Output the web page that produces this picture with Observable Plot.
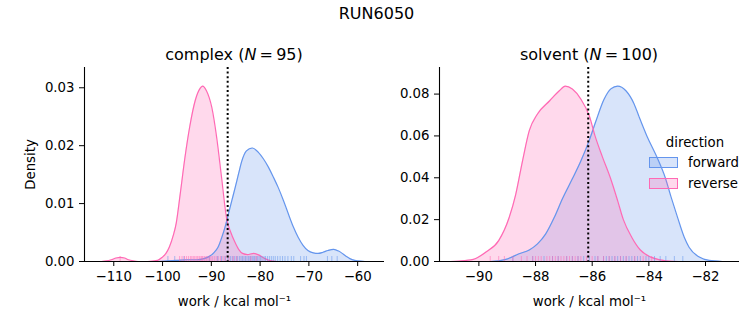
<!DOCTYPE html>
<html><head><meta charset="utf-8">
<script src="https://cdn.jsdelivr.net/npm/d3@7"></script>
<script src="https://cdn.jsdelivr.net/npm/@observablehq/plot@0.6"></script>
<style>
body{margin:0;background:#fff;}
#fig{position:relative;width:753px;height:325px;font-family:"DejaVu Sans",sans-serif;color:#000;overflow:hidden;}
.ttl{position:absolute;font-size:16px;transform:translate(-50%,-50%);white-space:nowrap;}
.panel{position:absolute;top:0;}
.leg{position:absolute;font-size:13.3px;white-space:nowrap;}
.patch{position:absolute;width:27px;height:9px;}
</style></head><body>
<div id="fig"></div>
<script>
// ---------- data ----------
const figTitle = "RUN6050";
const panelNames = ["complex", "solvent"];
const panelN = [95, 100];
const directions = ["forward", "reverse"];
const directionColors = ["#6495ED", "#FF69B4"];
const meanLine = [-86.65, -86.14];

const complexXTicks = [-110, -100, -90, -80, -70, -60];
const complexYTicks = [0, 0.01, 0.02, 0.03];
const solventXTicks = [-90, -88, -86, -84, -82];
const solventYTicks = [0, 0.02, 0.04, 0.06, 0.08];

// complex, forward density curve
const complexForwardX = [-101, -99, -97, -95, -93, -91.5, -90.6, -89.5, -88.6, -87.8, -87.2, -86.5, -85.8, -85.1, -84.4, -83.8, -82.8, -81.6, -80.4, -79.3, -78.3, -77.3, -76.3, -75.2, -74.2, -73.2, -72.2, -71.2, -70.2, -69.1, -68.1, -67.1, -66.1, -64.9, -63.9, -63.0, -62.2, -61.6, -60.6, -59.9, -58.5];
const complexForwardD = [0, 0.0001, 0.0002, 0.0003, 0.0003, 0.0005, 0.0008, 0.0015, 0.0025, 0.0043, 0.0059, 0.0082, 0.0105, 0.0128, 0.0152, 0.0172, 0.0191, 0.0196, 0.0189, 0.0177, 0.0163, 0.0146, 0.0128, 0.0105, 0.0082, 0.0060, 0.0042, 0.0028, 0.0019, 0.0015, 0.0014, 0.0016, 0.0019, 0.0021, 0.0018, 0.0013, 0.0008, 0.0005, 0.0002, 0.0001, 0];
// complex, reverse density curve
const complexReverseX = [-112.5, -111.5, -110.5, -109.5, -108.7, -107.8, -107, -106, -105, -103, -101, -100.1, -99.3, -98.6, -97.8, -97.2, -96.4, -95.4, -94.4, -93.3, -92.3, -91.8, -91.0, -89.9, -88.9, -87.9, -86.9, -86.0, -85.2, -84.4, -83.6, -82.6, -81.3, -80.2, -79.0, -77.7, -76.5];
const complexReverseD = [0, 0.0001, 0.0003, 0.0006, 0.0007, 0.0006, 0.0003, 0.0001, 0, 0, 0.0002, 0.0007, 0.0014, 0.0025, 0.0045, 0.0066, 0.0115, 0.0180, 0.0234, 0.0278, 0.0299, 0.0303, 0.0295, 0.0266, 0.0214, 0.0145, 0.0076, 0.0050, 0.0034, 0.0021, 0.0014, 0.0012, 0.0014, 0.0011, 0.0005, 0.0001, 0];
// solvent, forward density curve
const solventForwardX = [-89.6, -89.3, -89.05, -88.58, -88.22, -87.93, -87.64, -87.34, -87.05, -86.7, -86.4, -86.1, -85.87, -85.58, -85.34, -85.1, -84.81, -84.52, -84.34, -84.07, -83.72, -83.42, -83.22, -82.99, -82.75, -82.58, -82.22, -81.87, -81.4];
const solventForwardD = [0, 0.0003, 0.0010, 0.0037, 0.0055, 0.0084, 0.0132, 0.0210, 0.0300, 0.0395, 0.0480, 0.0580, 0.0670, 0.0775, 0.0825, 0.0838, 0.0816, 0.0753, 0.0690, 0.0600, 0.0500, 0.0400, 0.0310, 0.0212, 0.0116, 0.0068, 0.0021, 0.0005, 0];
// solvent, reverse density curve
const solventReverseX = [-91.0, -90.7, -90.2, -89.75, -89.3, -88.93, -88.7, -88.46, -88.22, -87.93, -87.5, -87.16, -86.95, -86.7, -86.4, -86.1, -85.9, -85.64, -85.36, -85.1, -84.9, -84.6, -84.3, -83.95, -83.6, -83.2, -82.8];
const solventReverseD = [0, 0.0002, 0.0010, 0.0045, 0.0100, 0.0210, 0.0320, 0.0480, 0.0625, 0.0705, 0.0768, 0.0816, 0.0838, 0.0824, 0.0776, 0.0695, 0.0600, 0.0500, 0.0400, 0.0290, 0.0200, 0.0115, 0.0055, 0.0022, 0.0008, 0.0001, 0];

// rug samples (work values)
const complexForwardRug = [-98.9, -97.5, -95.6, -90.4, -88.7, -87.9, -87.2, -86.6, -86.1, -85.7, -85.3, -84.9, -84.6, -84.2, -83.9, -83.6, -83.3, -83.0, -82.7, -82.4, -82.1, -81.9, -81.6, -81.3, -81.1, -80.8, -80.5, -80.2, -79.9, -79.6, -79.2, -78.9, -78.5, -78.1, -77.7, -77.3, -76.9, -76.4, -75.9, -75.4, -74.9, -74.3, -73.6, -73.1, -71.7, -71.0, -70.5, -66.2, -65.3, -64.2];
const complexReverseRug = [-108.7, -96.5, -96.0, -95.5, -95.1, -94.7, -94.3, -94.0, -93.7, -93.4, -93.1, -92.8, -92.5, -92.3, -92.0, -91.8, -91.5, -91.3, -91.0, -90.7, -90.4, -90.1, -89.8, -89.4, -89.0, -88.6, -88.1, -87.6, -87.1, -86.4, -85.5, -84.8, -81.9, -80.8];
const solventForwardRug = [-88.8, -88.1, -87.7, -87.4, -87.2, -86.9, -86.7, -86.5, -86.3, -86.1, -85.9, -85.8, -85.6, -85.5, -85.4, -85.3, -85.2, -85.1, -85.0, -84.9, -84.8, -84.7, -84.6, -84.5, -84.4, -84.3, -84.1, -84.0, -83.8, -83.6, -83.4, -83.1, -82.8];
const solventReverseRug = [-89.6, -89.3, -89.1, -88.8, -88.5, -88.3, -88.1, -88.0, -87.9, -87.8, -87.6, -87.5, -87.4, -87.3, -87.2, -87.1, -87.0, -86.9, -86.8, -86.7, -86.6, -86.5, -86.4, -86.2, -86.0, -85.8, -85.6, -85.4, -85.2, -85.0, -84.8, -84.5, -84.2, -83.9];

// ---------- build ----------
function curve(xs, ds, dir) { return xs.map((x, i) => ({x, d: ds[i], direction: dir})); }
function rug(xs, dir) { return xs.map(x => ({x, direction: dir})); }

const fig = document.getElementById("fig");
const xLabel = "work / kcal mol\u207B\u00B9";

function panel(opts) {
  const {width, marginLeft, marginRight, xDomain, yDomain, xTicks, yTicks, yFmt, curves, rugs, mean, yLabel} = opts;
  const frameH = 325 - 67 - 64;
  return Plot.plot({
    width, height: 325, marginLeft, marginRight, marginTop: 67, marginBottom: 64,
    style: {fontFamily: "DejaVu Sans, sans-serif", fontSize: "13.3px", background: "transparent", color: "#000", overflow: "visible"},
    x: {domain: xDomain, ticks: xTicks, tickFormat: d3.format("d"), tickSize: 5, tickPadding: 5,
        label: xLabel, labelAnchor: "center", labelOffset: 44, labelArrow: "none"},
    y: {domain: yDomain, ticks: yTicks, tickFormat: d3.format(yFmt), tickSize: 5, tickPadding: 5,
        label: yLabel, labelAnchor: "center", labelOffset: 59, labelArrow: "none"},
    color: {domain: directions, range: directionColors},
    marks: [
      Plot.areaY(curves, {x: "x", y1: 0, y2: "d", fill: "direction", z: "direction", fillOpacity: 0.25, curve: "monotone-x"}),
      Plot.lineY(curves, {x: "x", y: "d", stroke: "direction", z: "direction", strokeWidth: 1.2, curve: "monotone-x"}),
      Plot.ruleX(rugs, {x: "x", stroke: "direction", strokeOpacity: 0.55, strokeWidth: 1, insetTop: frameH - 5}),
      Plot.ruleX([mean], {stroke: "#000", strokeWidth: 2, strokeDasharray: "2,2.6"}),
      Plot.ruleY([yDomain[0]], {stroke: "#000", strokeWidth: 1.1}),
      Plot.ruleX([xDomain[0]], {stroke: "#000", strokeWidth: 1.1})
    ]
  });
}

const left = panel({
  width: 395, marginLeft: 84, marginRight: 11,
  xDomain: [-116, -54.5], yDomain: [0, 0.0335], xTicks: complexXTicks, yTicks: complexYTicks, yFmt: ".2f",
  curves: [...curve(complexForwardX, complexForwardD, "forward"), ...curve(complexReverseX, complexReverseD, "reverse")],
  rugs: [...rug(complexForwardRug, "forward"), ...rug(complexReverseRug, "reverse")],
  mean: meanLine[0], yLabel: "Density"
});
const right = panel({
  width: 358, marginLeft: 44, marginRight: 14,
  xDomain: [-91.39, -80.8], yDomain: [0, 0.0927], xTicks: solventXTicks, yTicks: solventYTicks, yFmt: ".2f",
  curves: [...curve(solventForwardX, solventForwardD, "forward"), ...curve(solventReverseX, solventReverseD, "reverse")],
  rugs: [...rug(solventForwardRug, "forward"), ...rug(solventReverseRug, "reverse")],
  mean: meanLine[1], yLabel: null
});
left.classList.add("panel"); left.style.left = "0px";
right.classList.add("panel"); right.style.left = "395px";
fig.appendChild(left); fig.appendChild(right);

function addTitle(html, x, y) {
  const d = document.createElement("div");
  d.className = "ttl"; d.innerHTML = html;
  d.style.left = x + "px"; d.style.top = y + "px";
  fig.appendChild(d);
}
addTitle(figTitle, 376.5, 13);
addTitle(`${panelNames[0]} (<i>N</i>\u2009=\u2009${panelN[0]})`, 234, 54);
addTitle(`${panelNames[1]} (<i>N</i>\u2009=\u2009${panelN[1]})`, 589, 54);

// legend
function legText(t, x, y) {
  const d = document.createElement("div");
  d.className = "leg"; d.textContent = t;
  d.style.left = x + "px"; d.style.top = y + "px";
  fig.appendChild(d);
  return d;
}
const lt = legText("direction", 0, 135);
lt.style.left = "695px"; lt.style.transform = "translateX(-50%)";
directions.forEach((dir, i) => {
  const p = document.createElement("div");
  p.className = "patch";
  const c = d3.color(directionColors[i]); c.opacity = 0.25;
  p.style.background = c.formatRgb();
  p.style.border = "1px solid " + directionColors[i];
  p.style.left = "649px"; p.style.top = (157 + i * 21) + "px";
  fig.appendChild(p);
  legText(dir, 688, 155 + i * 21);
});
</script>
</body></html>
